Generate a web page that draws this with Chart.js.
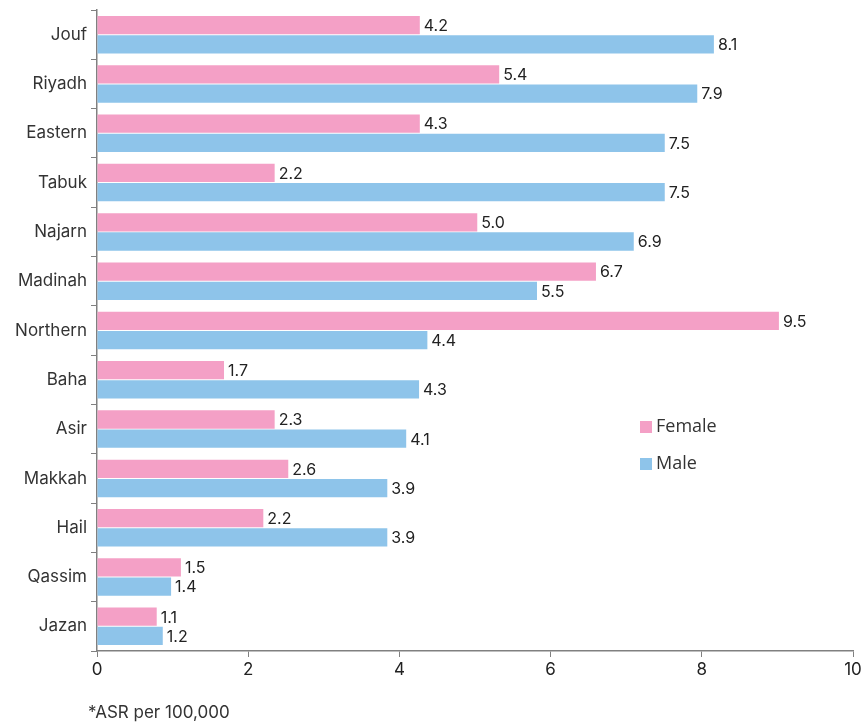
<!DOCTYPE html>
<html>
<head>
<meta charset="utf-8">
<script src="https://cdn.jsdelivr.net/npm/chart.js@4.4.0/dist/chart.umd.min.js"></script>
<style>
  body { margin: 0; background: #fff; }
  #wrap { width: 862px; height: 728px; position: relative; }
</style>
</head>
<body>
<div id="wrap"><canvas id="chart" width="862" height="728"></canvas></div>
<script>
let regions = ['Jouf', 'Riyadh', 'Eastern', 'Tabuk', 'Najarn', 'Madinah', 'Northern', 'Baha', 'Asir', 'Makkah', 'Hail', 'Qassim', 'Jazan']

// bar lengths as drawn in the picture
let femaleBars = [4.27, 5.32, 4.27, 2.35, 5.03, 6.6, 9.02, 1.68, 2.35, 2.53, 2.2, 1.11, 0.79]
let maleBars = [8.16, 7.94, 7.51, 7.51, 7.1, 5.82, 4.37, 4.26, 4.09, 3.84, 3.84, 0.98, 0.87]

// printed values next to the bars
let femaleLabels = ['4.2', '5.4', '4.3', '2.2', '5.0', '6.7', '9.5', '1.7', '2.3', '2.6', '2.2', '1.5', '1.1']
let maleLabels = ['8.1', '7.9', '7.5', '7.5', '6.9', '5.5', '4.4', '4.3', '4.1', '3.9', '3.9', '1.4', '1.2']

let xTicks = [0, 2, 4, 6, 8, 10]

const pink = '#F4A0C6'
const blue = '#8EC4EA'
const axisGrey = '#808080'
const font = 'Inter, "DejaVu Sans", sans-serif'

const valueLabels = {
    id: 'valueLabels',
    afterDatasetsDraw(chart) {
        const ctx = chart.ctx
        ctx.save()
        ctx.font = '16px ' + font
        ctx.fillStyle = '#222'
        ctx.textBaseline = 'middle'
        ctx.textAlign = 'left'
        chart.data.datasets.forEach((ds, i) => {
            chart.getDatasetMeta(i).data.forEach((bar, j) => {
                ctx.fillText(ds.printed[j], bar.x + 4, bar.y + 1)
            })
        })
        ctx.restore()
    }
}

const sideLegend = {
    id: 'sideLegend',
    afterDraw(chart) {
        const ctx = chart.ctx
        ctx.save()
        ctx.font = '18px "Open Sans", sans-serif'
        ctx.textBaseline = 'middle'
        chart.data.datasets.forEach((ds, i) => {
            const y = 427 + i * 37
            ctx.fillStyle = ds.backgroundColor
            ctx.fillRect(640, y - 6, 12, 12)
            ctx.fillStyle = '#333'
            ctx.fillText(ds.label, 656, y)
        })
        // footnote
        ctx.font = '17px ' + font
        ctx.fillStyle = '#333'
        ctx.fillText('*ASR per 100,000', 88, 713)
        ctx.restore()
    }
}

const initChart = () => {
    new Chart(document.getElementById('chart'), {
        type: 'bar',
        data: {
            labels: regions,
            datasets: [
                { label: 'Female', data: femaleBars, printed: femaleLabels, backgroundColor: pink },
                { label: 'Male', data: maleBars, printed: maleLabels, backgroundColor: blue }
            ]
        },
        options: {
            indexAxis: 'y',
            responsive: false,
            animation: false,
            layout: { padding: { top: 10, right: 0, bottom: 47, left: 0 } },
            datasets: { bar: { categoryPercentage: 0.78, barPercentage: 0.95 } },
            plugins: {
                legend: { display: false },
                tooltip: { enabled: false }
            },
            scales: {
                x: {
                    min: 0,
                    max: 10,
                    afterBuildTicks: (scale) => { scale.ticks = xTicks.map(v => ({ value: v })) },
                    grid: { drawOnChartArea: false, drawTicks: true, tickLength: 6, color: axisGrey },
                    border: { color: axisGrey, width: 1.5 },
                    ticks: { color: '#222', font: { family: font, size: 17 }, padding: 3 },
                    afterFit: (scale) => {
                        scale.height = 30
                        scale.paddingLeft = 0
                        scale.paddingRight = 9
                    }
                },
                y: {
                    grid: { drawOnChartArea: false, drawTicks: true, tickLength: 6, color: axisGrey, offset: true },
                    border: { color: axisGrey, width: 1.5 },
                    ticks: { color: '#333', font: { family: font, size: 17 }, padding: 4 },
                    afterFit: (scale) => {
                        scale.width = 97
                        scale.paddingTop = 0
                        scale.paddingBottom = 0
                    }
                }
            }
        },
        plugins: [valueLabels, sideLegend]
    })
}

initChart()
</script>
</body>
</html>
